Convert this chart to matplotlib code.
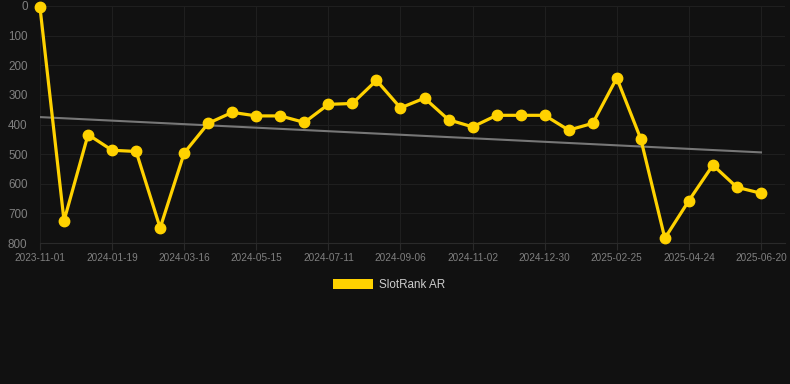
import numpy as np
import matplotlib
matplotlib.use("Agg")
import matplotlib.pyplot as plt
from matplotlib.patches import Patch

plt.rcParams['font.family'] = ['Liberation Sans', 'DejaVu Sans']

# rank readings, one per sample (y axis is inverted: 0 = best)
ranks = [5, 725, 434, 487, 491, 749, 496, 396, 359, 371, 371, 393, 332, 329, 251,
         344, 311, 384, 408, 369, 369, 369, 419, 396, 243, 449, 784, 657, 537, 612, 632]
date_labels = ['2023-11-01', '2024-01-19', '2024-03-16', '2024-05-15', '2024-07-11',
               '2024-09-06', '2024-11-02', '2024-12-30', '2025-02-25', '2025-04-24',
               '2025-06-20']
label_step = 3
y_ticks = [0, 100, 200, 300, 400, 500, 600, 700, 800]
series_name = 'SlotRank AR'

bg = '#111111'
grid_c = '#1f1f1f'
text_c = '#808080'
gold = '#FFD200'

x = np.arange(len(ranks))
slope, icpt = np.polyfit(x, ranks, 1)

fig = plt.figure(figsize=(7.9, 3.84), dpi=100, facecolor=bg)
ax = fig.add_axes([40 / 790, 1 - 243 / 384, 745 / 790, 237 / 384], facecolor=bg)

ax.plot(x, slope * x + icpt, color='#777777', lw=1.5, zorder=2)
ax.plot(x, ranks, color=gold, lw=2.3, marker='o', ms=7.5, zorder=3, clip_on=False)

ax.set_xlim(0, 31)
ax.set_ylim(800, 0)
ax.set_yticks(y_ticks)
ax.set_xticks(x[::label_step])
ax.set_xticklabels(date_labels)

ax.grid(True, color=grid_c, lw=0.8, zorder=0)
for s in ax.spines.values():
    s.set_visible(False)
ax.spines['bottom'].set_visible(True)
ax.spines['bottom'].set_color('#2a2a2a')
ax.tick_params(axis='x', colors='#2a2a2a', labelcolor=text_c, labelsize=7.2, length=5, pad=2)
ax.tick_params(axis='y', length=0, labelcolor=text_c, labelsize=8.4, pad=9)

fig.legend(handles=[Patch(facecolor=gold, edgecolor='none', label=series_name)],
           loc='center', bbox_to_anchor=(389 / 790, 1 - 285 / 384), frameon=False,
           fontsize=8.4, labelcolor='#cccccc', handlelength=3.4, handleheight=1.0,
           handletextpad=0.5)

fig.savefig('out.png', dpi=100, facecolor=bg)
